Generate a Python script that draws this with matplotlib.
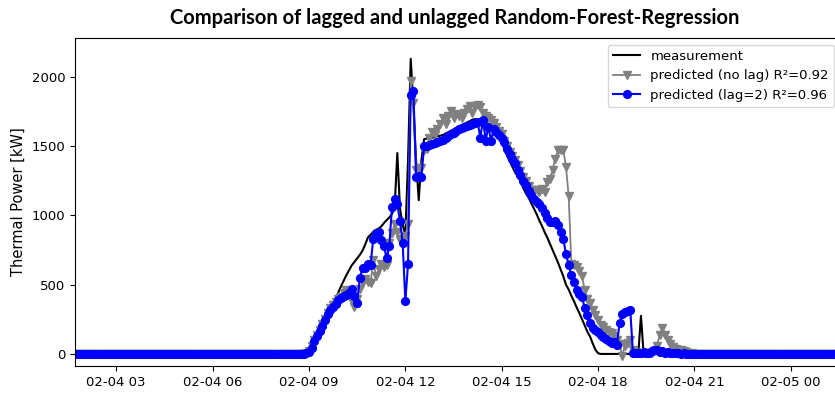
import numpy as np
import pandas as pd
import matplotlib
matplotlib.use("Agg")
import matplotlib.pyplot as plt
import matplotlib.dates as mdates

# 5-minute samples; the night hours are all zero
start = "2019-02-04 01:40"
n_night_before = 76   # 01:40 .. 07:55
n_night_after = 56    # 21:00 .. 01:35 next day

# daytime values 08:00 .. 20:55, one row per hour
measurement_day = [
    0, 0, 0, 0, 0, 0, 0, 0, 0, 0, 0, 5,
    10, 35, 75, 115, 155, 195, 235, 275, 315, 355, 400, 445,
    490, 530, 570, 605, 640, 665, 690, 715, 745, 790, 840, 860,
    880, 895, 905, 920, 945, 965, 985, 1010, 1060, 1450, 1050, 930,
    860, 1400, 2130, 1800, 1400, 1110, 1400, 1550, 1555, 1560, 1560, 1565,
    1570, 1575, 1580, 1590, 1600, 1610, 1620, 1630, 1640, 1650, 1660, 1670,
    1680, 1690, 1695, 1690, 1685, 1680, 1670, 1655, 1640, 1620, 1590, 1560,
    1530, 1480, 1430, 1390, 1350, 1310, 1280, 1250, 1200, 1160, 1130, 1090,
    1050, 1010, 965, 925, 880, 840, 795, 750, 705, 660, 610, 560,
    500, 465, 420, 380, 335, 295, 250, 205, 160, 125, 75, 30,
    5, 0, 0, 0, 0, 0, 0, 0, 0, 0, 0, 0,
    0, 0, 0, 0, 275, 0, 0, 0, 0, 0, 0, 0,
    0, 0, 0, 0, 0, 0, 0, 0, 0, 0, 0, 0,
]
pred_nolag_day = [
    0, 0, 0, 0, 0, 0, 0, 0, 0, 0, 0, 5,
    20, 60, 100, 140, 175, 215, 255, 295, 330, 350, 375, 395,
    410, 440, 460, 420, 380, 340, 400, 470, 520, 540, 520, 510,
    680, 560, 610, 650, 630, 640, 800, 870, 940, 880, 820, 830,
    850, 940, 1970, 1810, 1330, 1340, 1340, 1470, 1480, 1560, 1600, 1580,
    1620, 1660, 1700, 1660, 1720, 1750, 1700, 1730, 1720, 1700, 1740, 1770,
    1790, 1740, 1790, 1800, 1780, 1740, 1720, 1700, 1690, 1670, 1640, 1610,
    1590, 1540, 1500, 1460, 1430, 1400, 1360, 1320, 1280, 1250, 1210, 1180,
    1180, 1180, 1170, 1190, 1170, 1240, 1260, 1330, 1410, 1470, 1470, 1470,
    1350, 1140, 650, 640, 630, 600, 560, 460, 400, 370, 320, 280,
    245, 210, 195, 175, 160, 150, 130, 100, 70, -15, 60, 80,
    100, 25, 10, 5, 5, 10, 5, 5, 10, 20, 60, 140,
    190, 140, 100, 70, 50, 35, 30, 25, 20, 15, 10, 5,
]
pred_lag2_day = [
    0, 0, 0, 0, 0, 0, 0, 0, 0, 0, 0, 5,
    15, 45, 95, 130, 165, 205, 245, 285, 315, 340, 362, 390,
    405, 420, 428, 440, 470, 420, 370, 550, 620, 620, 650, 640,
    830, 870, 880, 825, 780, 690, 780, 1060, 1120, 1080, 960, 800,
    380, 650, 1870, 1900, 1280, 1285, 1280, 1500, 1500, 1510, 1515, 1525,
    1530, 1540, 1545, 1560, 1575, 1590, 1595, 1610, 1620, 1630, 1635, 1645,
    1650, 1660, 1665, 1675, 1560, 1690, 1540, 1640, 1540, 1620, 1600, 1580,
    1560, 1530, 1480, 1440, 1410, 1380, 1330, 1290, 1250, 1220, 1175, 1150,
    1120, 1100, 1080, 1050, 1020, 980, 950, 950, 960, 930, 880, 830,
    720, 640, 570, 520, 462, 430, 410, 330, 280, 220, 190, 170,
    155, 137, 125, 105, 95, 80, 85, 65, 220, 290, 300, 310,
    320, 10, 5, 10, 5, 15, 10, 5, 20, 30, 25, 15,
    20, 10, 15, 5, 10, 5, 5, 0, 5, 0, 0, 0,
]

labels = ["measurement", "predicted (no lag) R\u00b2=0.92", "predicted (lag=2) R\u00b2=0.96"]
title = "Comparison of lagged and unlagged Random-Forest-Regression"


def full_day(day_values):
    return np.concatenate([np.zeros(n_night_before), day_values, np.zeros(n_night_after)])


measurement = full_day(measurement_day)
pred_nolag = full_day(pred_nolag_day)
pred_lag2 = full_day(pred_lag2_day)
times = pd.date_range(start, periods=len(measurement), freq="5min")

fig = plt.figure(figsize=(8.35, 3.93), dpi=100)
ax = fig.add_axes([0.0898, 0.0687, 0.917, 0.8346])

ax.plot(times, measurement, color="black", linewidth=1.5, label=labels[0])
ax.plot(times, pred_nolag, color="gray", marker="v", markersize=6,
        linewidth=1.3, label=labels[1])
ax.plot(times, pred_lag2, color="blue", marker="o", markersize=5.6,
        linewidth=1.5, label=labels[2])

ax.set_xlim(pd.Timestamp("2019-02-04 01:43"), pd.Timestamp("2019-02-05 01:33"))
ax.set_ylim(-87, 2280)
ax.set_yticks([0, 500, 1000, 1500, 2000])
ax.xaxis.set_major_locator(mdates.HourLocator(byhour=range(0, 24, 3)))
ax.xaxis.set_major_formatter(mdates.DateFormatter("%m-%d %H"))
ax.tick_params(labelsize=9.5)
ax.set_ylabel("Thermal Power [kW]", fontsize=10.5)
ax.legend(loc="upper right", fontsize=9.5)

fig.text(0.545, 0.953, title, ha="center", va="center",
         fontsize=14.5, fontweight="bold", family=["Lato", "DejaVu Sans"])

fig.savefig("out.png", dpi=100)
